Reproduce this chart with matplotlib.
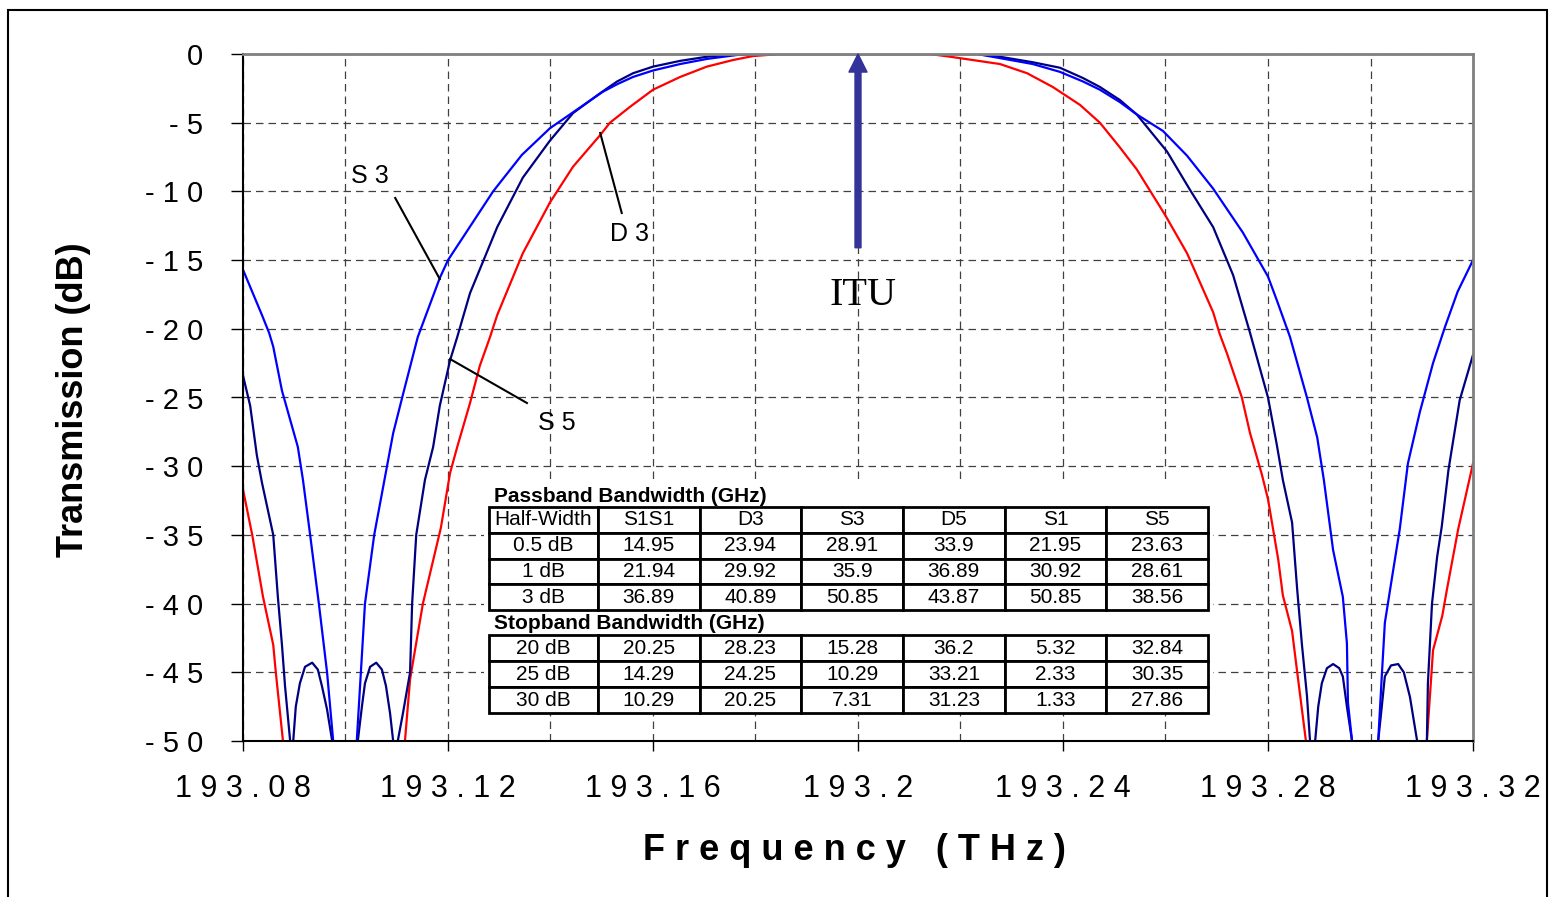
import matplotlib
matplotlib.use("Agg")
import matplotlib.pyplot as plt
from matplotlib.patches import Rectangle

plt.rcParams['font.family'] = ['Liberation Sans', 'DejaVu Sans']

# S3 (blue)
s3_f = [193.0800, 193.0837, 193.0851, 193.0859, 193.0876, 193.0907, 193.0917, 193.0931, 193.0948, 193.0964,
        193.0976, 193.0978, 193.1020, 193.1022, 193.1030, 193.1038, 193.1056, 193.1081, 193.1093, 193.1112,
        193.1141, 193.1184, 193.1200, 193.1237, 193.1288, 193.1344, 193.1399, 193.1434, 193.1502, 193.1530,
        193.1561, 193.1600, 193.1653, 193.1705, 193.1764, 193.1809, 193.2232, 193.2277, 193.2341, 193.2394,
        193.2439, 193.2472, 193.2511, 193.2544, 193.2595, 193.2642, 193.2693, 193.2751, 193.2800, 193.2817,
        193.2843, 193.2876, 193.2896, 193.2909, 193.2915, 193.2927, 193.2946, 193.2954, 193.2956, 193.2964,
        193.2966, 193.3013, 193.3015, 193.3022, 193.3028, 193.3042, 193.3057, 193.3073, 193.3096, 193.3122,
        193.3145, 193.3170, 193.3200]
s3_db = [-15.7, -19.0, -20.3, -21.3, -24.5, -28.6, -31.0, -35.0, -40.0, -45.0,
         -50.0, -53, -53, -50.0, -45.0, -40.0, -35.0, -30.0, -27.6, -24.8,
         -20.6, -16.3, -15.0, -12.9, -10.0, -7.35, -5.4, -4.5, -2.75, -2.2,
         -1.67, -1.2, -0.73, -0.36, -0.07, 0.0, 0.0, -0.3, -0.73, -1.3,
         -2.0, -2.6, -3.5, -4.4, -5.6, -7.4, -9.8, -13.0, -16.2, -17.9,
         -20.6, -25.0, -27.9, -31.0, -32.7, -36.1, -39.5, -42.9, -47.2, -50.0,
         -53, -53, -50.0, -45.3, -41.4, -38.1, -34.6, -29.8, -26.1, -22.5,
         -19.9, -17.3, -15.0]

# S5 (navy)
s5_f = [193.0800, 193.0814, 193.0827, 193.0837, 193.0859, 193.0868, 193.0876, 193.0882, 193.0892, 193.0894,
        193.0898, 193.0903, 193.0911, 193.0921, 193.0935, 193.0946, 193.0954, 193.0964, 193.0974, 193.0976,
        193.1022, 193.1024, 193.1032, 193.1038, 193.1048, 193.1060, 193.1071, 193.1079, 193.1087, 193.1093,
        193.1097, 193.1102, 193.1112, 193.1126, 193.1130, 193.1138, 193.1155, 193.1171, 193.1184, 193.1204,
        193.1218, 193.1243, 193.1296, 193.1346, 193.1399, 193.1444, 193.1497, 193.1530, 193.1561, 193.1600,
        193.1653, 193.1705, 193.1764, 193.2232, 193.2277, 193.2341, 193.2394, 193.2439, 193.2472, 193.2511,
        193.2544, 193.2603, 193.2648, 193.2693, 193.2732, 193.2765, 193.2800, 193.2817, 193.2829, 193.2847,
        193.2857, 193.2866, 193.2876, 193.2882, 193.2886, 193.2892, 193.2898, 193.2905, 193.2915, 193.2927,
        193.2939, 193.2946, 193.2954, 193.2964, 193.2966, 193.3013, 193.3015, 193.3022, 193.3028, 193.3040,
        193.3054, 193.3065, 193.3077, 193.3091, 193.3101, 193.3110, 193.3112, 193.3120, 193.3130, 193.3139,
        193.3152, 193.3174, 193.3200]
s5_db = [-23.4, -25.6, -29.2, -31.2, -35.0, -39.5, -43.0, -46.0, -50.0, -51.0,
         -50.0, -47.5, -45.8, -44.6, -44.3, -44.8, -46.0, -47.7, -50.0, -53,
         -53, -50.0, -47.5, -45.8, -44.6, -44.3, -44.8, -46.0, -48.0, -50.0,
         -51.0, -50.0, -48.0, -45.0, -40.0, -35.0, -31.0, -28.6, -25.6, -22.3,
         -20.6, -17.4, -12.6, -9.0, -6.3, -4.3, -2.85, -2.0, -1.4, -0.92,
         -0.5, -0.2, 0.0, 0.0, -0.2, -0.6, -1.0, -1.75, -2.4, -3.35,
         -4.4, -7.1, -9.9, -12.6, -16.1, -20.3, -25.0, -28.4, -31.0, -34.1,
         -39.0, -42.9, -46.7, -50.0, -51.0, -50.0, -47.5, -45.8, -44.7, -44.4,
         -44.7, -45.3, -47.5, -50.0, -53, -53, -50.0, -47.5, -45.3, -44.5,
         -44.4, -45.0, -46.8, -50.0, -52.0, -50.0, -45.8, -40.0, -36.6, -34.4,
         -30.3, -25.2, -21.9]

# D3 (red)
d3_f = [193.0800, 193.0818, 193.0839, 193.0859, 193.0864, 193.0878, 193.0880, 193.1114, 193.1116, 193.1126,
        193.1151, 193.1186, 193.1204, 193.1218, 193.1243, 193.1262, 193.1282, 193.1296, 193.1346, 193.1399,
        193.1444, 193.1497, 193.1516, 193.1555, 193.1600, 193.1653, 193.1705, 193.1756, 193.1795, 193.1848,
        193.2140, 193.2180, 193.2224, 193.2277, 193.2330, 193.2380, 193.2433, 193.2472, 193.2511, 193.2544,
        193.2599, 193.2642, 193.2667, 193.2693, 193.2706, 193.2720, 193.2749, 193.2765, 193.2788, 193.2800,
        193.2810, 193.2820, 193.2829, 193.2847, 193.2857, 193.2874, 193.2876, 193.3108, 193.3110, 193.3122,
        193.3140, 193.3149, 193.3171, 193.3200]
d3_db = [-31.7, -35.0, -39.5, -43.0, -45.0, -50.0, -53, -53, -50.0, -45.5,
         -40.0, -34.5, -30.5, -28.6, -25.4, -22.7, -20.6, -19.0, -14.5, -10.8,
         -8.2, -5.9, -5.0, -3.85, -2.6, -1.67, -0.92, -0.44, -0.15, 0.0,
         0.0, -0.2, -0.44, -0.73, -1.4, -2.4, -3.7, -5.0, -6.8, -8.4,
         -11.7, -14.5, -16.6, -18.8, -20.4, -21.8, -25.0, -27.6, -30.6, -32.4,
         -34.6, -36.8, -39.4, -42.0, -45.0, -50.0, -53, -53, -50.0, -43.4,
         -40.9, -39.0, -34.6, -29.8]

# table data
col_labels = ["Half-Width", "S1S1", "D3", "S3", "D5", "S1", "S5"]
pass_rows = [["0.5 dB", "14.95", "23.94", "28.91", "33.9", "21.95", "23.63"],
             ["1 dB", "21.94", "29.92", "35.9", "36.89", "30.92", "28.61"],
             ["3 dB", "36.89", "40.89", "50.85", "43.87", "50.85", "38.56"]]
stop_rows = [["20 dB", "20.25", "28.23", "15.28", "36.2", "5.32", "32.84"],
             ["25 dB", "14.29", "24.25", "10.29", "33.21", "2.33", "30.35"],
             ["30 dB", "10.29", "20.25", "7.31", "31.23", "1.33", "27.86"]]

xticks = [193.08, 193.12, 193.16, 193.2, 193.24, 193.28, 193.32]
yticks = [0, -5, -10, -15, -20, -25, -30, -35, -40, -45, -50]

fig = plt.figure(figsize=(15.56, 8.97), dpi=100)
ax = fig.add_axes([243/1556, 1 - 741/897, 1230/1556, 687/897])

# outer frame
fig.patches.append(Rectangle((8/1556, -0.1), 1539/1556, 1.1 - 10/897, transform=fig.transFigure,
                             fill=False, edgecolor='black', lw=1.5))

ax.plot(d3_f, d3_db, color='#ff0000', lw=1.6, zorder=2)
ax.plot(s5_f, s5_db, color='#000080', lw=1.6, zorder=2)
ax.plot(s3_f, s3_db, color='#0000ff', lw=1.6, zorder=2)

ax.set_xlim(193.08, 193.32)
ax.set_ylim(-50, 0)
ax.set_xticks(xticks)
ax.set_xticklabels([" ".join(f"{t:g}") for t in xticks], fontsize=22)
ax.set_xticks([193.10, 193.14, 193.18, 193.22, 193.26, 193.30], minor=True)
ax.set_yticks(yticks)
ax.set_yticklabels([" ".join(str(t)) for t in yticks], fontsize=21)
ax.tick_params(axis='x', which='major', direction='out', length=7, width=1, pad=17)
ax.tick_params(axis='x', which='minor', length=0)
ax.tick_params(axis='y', direction='out', length=8.5, width=1, pad=20)

ax.set_axisbelow(True)
ax.grid(True, which='both', axis='x', color='#404040', lw=0.9, linestyle=(0, (6, 4)))
ax.grid(True, which='major', axis='y', color='#404040', lw=0.9, linestyle=(0, (6, 4)))

for side in ['left', 'bottom']:
    ax.spines[side].set_color('black')
    ax.spines[side].set_linewidth(1.5)
for side in ['top', 'right']:
    ax.spines[side].set_color('#808080')
    ax.spines[side].set_linewidth(2)

ax.set_xlabel("F r e q u e n c y   ( T H z )", fontsize=26, fontweight='bold', va='center')
ax.xaxis.set_label_coords(0.4967, -0.16)
ax.set_ylabel("Transmission (dB)", fontsize=26, fontweight='bold', va='center')
ax.yaxis.set_label_coords(-0.1374, 0.4964)

# curve labels with leader lines
ax.plot([193.1097, 193.1184], [-10.48, -16.38], color='black', lw=1.5, zorder=3)
ax.text(193.1048, -8.88, "S 3", fontsize=18, ha='center', va='center')
ax.plot([193.1497, 193.1539], [-5.75, -11.57], color='black', lw=1.5, zorder=3)
ax.text(193.1555, -13.1, "D 3", fontsize=18, ha='center', va='center')
ax.plot([193.1204, 193.1354], [-22.2, -25.4], color='black', lw=1.5, zorder=3)
ax.text(193.1413, -26.86, "S 5", fontsize=18, ha='center', va='center')

# ITU arrow
ax.annotate('', xy=(193.2, 0), xytext=(193.2, -14.1),
            arrowprops=dict(facecolor='#333399', edgecolor='#333399', width=4.3,
                            headwidth=13, headlength=13, shrink=0), zorder=4)
ax.text(193.201, -17.6, "ITU", fontsize=29, family='Liberation Serif', ha='center', va='center')

# bandwidth tables
ax.add_patch(Rectangle((0.196, 0.0393), 0.5926, 0.3406, transform=ax.transAxes,
                       facecolor='white', edgecolor='none', zorder=3))
widths = [109] + [101.7] * 6
t1 = ax.table(cellText=[col_labels] + pass_rows, colWidths=widths, cellLoc='center',
              bbox=[0.2, 0.1906, 0.5846, 0.1499])
t2 = ax.table(cellText=stop_rows, colWidths=widths, cellLoc='center',
              bbox=[0.2, 0.0407, 0.5846, 0.1135])
for t in [t1, t2]:
    t.auto_set_font_size(False)
    t.set_fontsize(15)
    t.set_zorder(4)
    for cell in t.get_celld().values():
        cell.set_linewidth(2)
ax.text(0.204, 0.356, "Passband Bandwidth (GHz)", transform=ax.transAxes,
        fontsize=15, fontweight='bold', ha='left', va='center', zorder=5)
ax.text(0.204, 0.1712, "Stopband Bandwidth (GHz)", transform=ax.transAxes,
        fontsize=15, fontweight='bold', ha='left', va='center', zorder=5)

fig.savefig("out.png", dpi=100)
